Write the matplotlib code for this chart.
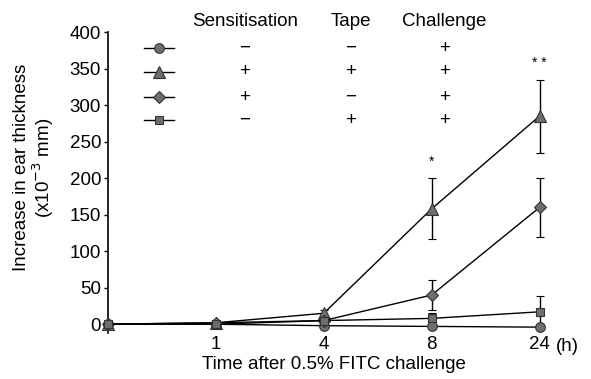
import matplotlib.pyplot as plt

plt.rcParams['font.family'] = ['Liberation Sans', 'DejaVu Sans']

times = ['0', '1', '4', '8', '24']
circle = [0, 0, -2, -3, -4]
triangle = [0, 2, 15, 158, 285]
diamond = [0, 2, 5, 40, 160]
square = [0, 0, 5, 8, 17]
circle_err = [0, 2, 2, 3, 3]
triangle_err = [0, 3, 4, 42, 50]
diamond_err = [0, 2, 4, 20, 40]
square_err = [0, 2, 3, 8, 22]

groups = ['circle', 'triangle', 'diamond', 'square']
markers = ['o', '^', 'D', 's']
sens = ['\u2212', '+', '+', '\u2212']
tape = ['\u2212', '+', '\u2212', '+']
chall = ['+', '+', '+', '+']

FS = 13.5

fig = plt.figure(figsize=(5.91, 3.79), dpi=100)
ax = fig.add_axes([0.1827, 0.1214, 0.765, 0.794])

x = list(range(len(times)))
series = [(circle, circle_err), (triangle, triangle_err), (diamond, diamond_err), (square, square_err)]
msizes = [7, 8, 6, 6]
for (vals, err), m, ms in zip(series, markers, msizes):
    ax.errorbar(x, vals, yerr=err, color='black', lw=1, marker=m, ms=ms,
                mfc='#6e6e6e', mec='#333333', mew=0.8, capsize=3, elinewidth=1,
                clip_on=False, zorder=3)

# significance stars
ax.text(3, 222, '*', ha='center', va='center', fontsize=10)
ax.text(4, 357, '* *', ha='center', va='center', fontsize=10)

ax.set_xlim(0, 4.19)
ax.set_ylim(-12, 400)
ax.set_yticks(range(0, 401, 50))
ax.set_xticks(x[1:])
ax.set_xticklabels(times[1:])
ax.tick_params(axis='x', length=0, labelsize=FS, pad=2)
ax.tick_params(axis='y', direction='out', length=3, labelsize=FS, width=1, pad=2)
ax.text(4.15, -19, '(h)', ha='left', va='top', fontsize=FS)
for s in ['top', 'right', 'bottom']:
    ax.spines[s].set_visible(False)
ax.spines['left'].set_linewidth(1.2)

ax.set_xlabel('Time after 0.5% FITC challenge', fontsize=FS, labelpad=2)
ax.set_ylabel('Increase in ear thickness\n(x10$^{-3}$ mm)', fontsize=FS,
              linespacing=1.0)
ax.yaxis.set_label_coords(-0.115, 0.55)

# key table
col_x = [1.27, 2.25, 3.12]
heads = ['Sensitisation', 'Tape', 'Challenge']
for cx, h in zip(col_x, heads):
    ax.text(cx, 414, h, ha='center', va='center', fontsize=FS, clip_on=False)
rows_y = [378, 346, 311, 279]
for ry, m, ms, a, b, c in zip(rows_y, markers, msizes, sens, tape, chall):
    ax.plot([0.33, 0.61], [ry, ry], color='black', lw=1)
    ax.plot([0.47], [ry], marker=m, ms=ms, mfc='#6e6e6e', mec='#333333', mew=0.8)
    for cx, sym in zip(col_x, [a, b, c]):
        ax.text(cx, ry, sym, ha='center', va='center', fontsize=FS)

fig.savefig('out.png', dpi=100)
